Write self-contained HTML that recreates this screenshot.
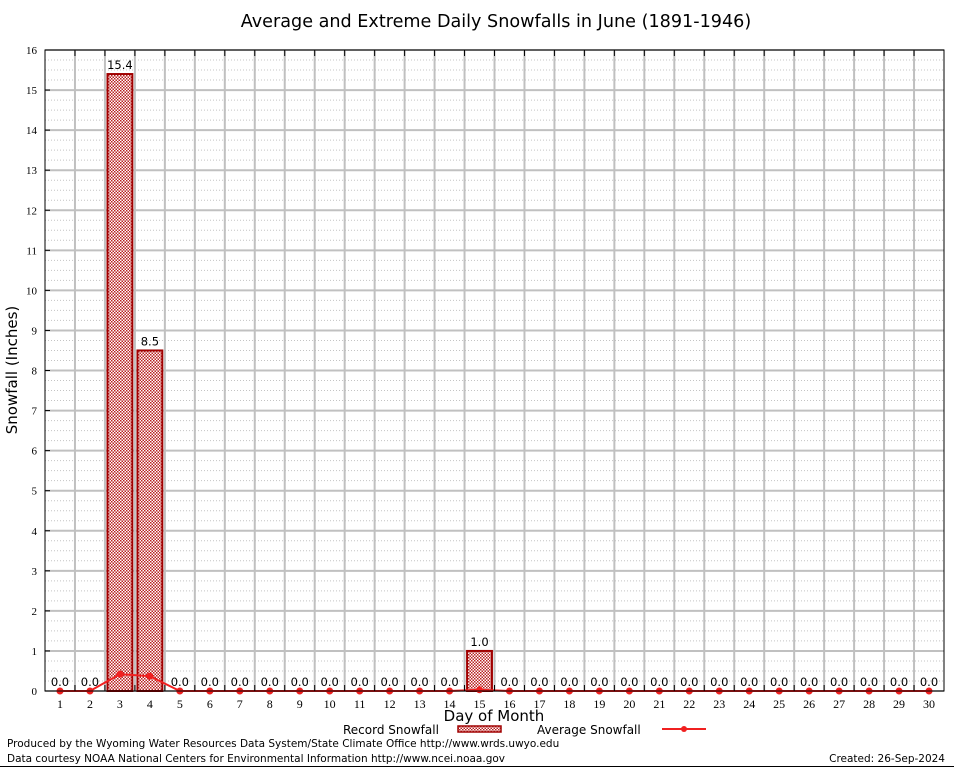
<!DOCTYPE html>
<html><head><meta charset="utf-8"><style>
body{margin:0;background:#fff;}
svg{display:block;font-family:"DejaVu Sans","Liberation Sans",sans-serif;}
</style></head><body>
<svg id="chart" width="954" height="768" viewBox="0 0 954 768">
<defs>
<pattern id="chk" width="3" height="3" patternUnits="userSpaceOnUse">
<rect width="3" height="3" fill="#fff"/><rect width="1.5" height="1.5" fill="#b82020"/><rect x="1.5" y="1.5" width="1.5" height="1.5" fill="#b82020"/>
</pattern>
</defs>
<rect x="0" y="0" width="954" height="768" fill="#fff"/>
<text x="496" y="27" font-size="17.6" text-anchor="middle">Average and Extreme Daily Snowfalls in June (1891-1946)</text>
<g id="grid"></g>
<g id="bars"></g>
<g id="avg"></g>
<g id="axes"></g>
<text x="17" y="370" font-size="15" text-anchor="middle" transform="rotate(-90 17 370)">Snowfall (Inches)</text>
<text x="494" y="721" font-size="15" text-anchor="middle">Day of Month</text>
<g>
<text x="343" y="734" font-size="12">Record Snowfall</text>
<rect x="458" y="726" width="43" height="6" fill="url(#chk)" stroke="#a00000" stroke-width="1.5"/>
<text x="537" y="734" font-size="12">Average Snowfall</text>
<line x1="662" y1="729" x2="706" y2="729" stroke="#f02020" stroke-width="2"/>
<circle cx="684" cy="729" r="3" fill="#f02020"/>
</g>
<text x="7" y="747" font-size="10.5">Produced by the Wyoming Water Resources Data System/State Climate Office http://www.wrds.uwyo.edu</text>
<text x="7" y="762" font-size="10.5">Data courtesy NOAA National Centers for Environmental Information http://www.ncei.noaa.gov</text>
<text x="945" y="762" font-size="10.5" text-anchor="end">Created:  26-Sep-2024</text>
<line x1="0" y1="766.5" x2="954" y2="766.5" stroke="#000" stroke-width="1"/>
</svg>
<script>
const days = Array.from({length:30},(_,i)=>i+1);
const recordValues = [0,0,15.4,8.5,0,0,0,0,0,0,0,0,0,0,1.0,0,0,0,0,0,0,0,0,0,0,0,0,0,0,0];
const averageValues = [0,0,0.42,0.37,0,0,0,0,0,0,0,0,0,0,0.03,0,0,0,0,0,0,0,0,0,0,0,0,0,0,0];
const yTicks = [0,1,2,3,4,5,6,7,8,9,10,11,12,13,14,15,16];

const L=45,R=944,T=50,B=691,YMAX=16;
const xs=d=>L+(d-0.5)*(R-L)/30;
const ys=v=>B-v*(B-T)/YMAX;
const NS="http://www.w3.org/2000/svg";
function mk(tag,attrs,parent){const e=document.createElementNS(NS,tag);for(const k in attrs)e.setAttribute(k,attrs[k]);parent.appendChild(e);return e;}
const grid=document.getElementById('grid'),bars=document.getElementById('bars'),avg=document.getElementById('avg'),axes=document.getElementById('axes');

for(let v=0;v<YMAX;v+=0.25){ if(Math.abs(v-Math.round(v))<1e-9) continue;
 const l=mk('line',{x1:L,x2:R,y1:ys(v),y2:ys(v),stroke:'#c4c4c4','stroke-width':1,'stroke-dasharray':'1,2'},grid);
 
 
}
yTicks.forEach(v=>{
 const l=mk('line',{x1:L,x2:R,y1:ys(v),y2:ys(v),stroke:'#c0c0c0','stroke-width':2},grid);
 
 
 const t=mk('text',{x:L-8,y:ys(v)+4,'font-size':11,'text-anchor':'end','font-family':'Liberation Serif, serif'},axes);
 t.textContent=v;
 
 
 const tk=mk('line',{x1:L,x2:L+5,y1:ys(v),y2:ys(v),stroke:'#000'},axes);
 
 
});
for(let k=1;k<30;k++){
 const x=L+k*(R-L)/30;
 const l=mk('line',{x1:x,x2:x,y1:T,y2:B,stroke:'#c0c0c0','stroke-width':2},grid);
 
 
 const t1=mk('line',{x1:x,x2:x,y1:B,y2:B-6,stroke:'#000'},axes);
 
 
 const t2=mk('line',{x1:x,x2:x,y1:T,y2:T+6,stroke:'#000'},axes);
 
 
}
const bw=(R-L)/30*0.83;
days.forEach((d,i)=>{
 const v=recordValues[i];
 if(v>0){
  const r=mk('rect',{x:xs(d)-bw/2,y:ys(v),width:bw,height:B-ys(v),fill:'url(#chk)',stroke:'#a00000','stroke-width':2},bars);
  
  
 }
 const t=mk('text',{x:xs(d),y:ys(v)-5,'font-size':11.5,'text-anchor':'middle'},bars);
 t.textContent=v.toFixed(1);
 
 
 const xl=mk('text',{x:xs(d),y:B+17,'font-size':12,'text-anchor':'middle','font-family':'Liberation Serif, serif'},axes);
 xl.textContent=d;
 
 
});
const pl=mk('polyline',{points:days.map((d,i)=>xs(d)+','+ys(averageValues[i])).join(' '),fill:'none',stroke:'#f02020','stroke-width':2},avg);


days.forEach((d,i)=>{
 const c=mk('circle',{cx:xs(d),cy:ys(averageValues[i]),r:3.5,fill:'#f02020'},avg);
 
 
});
const fr=mk('rect',{x:L,y:T,width:R-L,height:B-T,fill:'none',stroke:'#000','stroke-width':1},axes);


</script>
</body></html>
